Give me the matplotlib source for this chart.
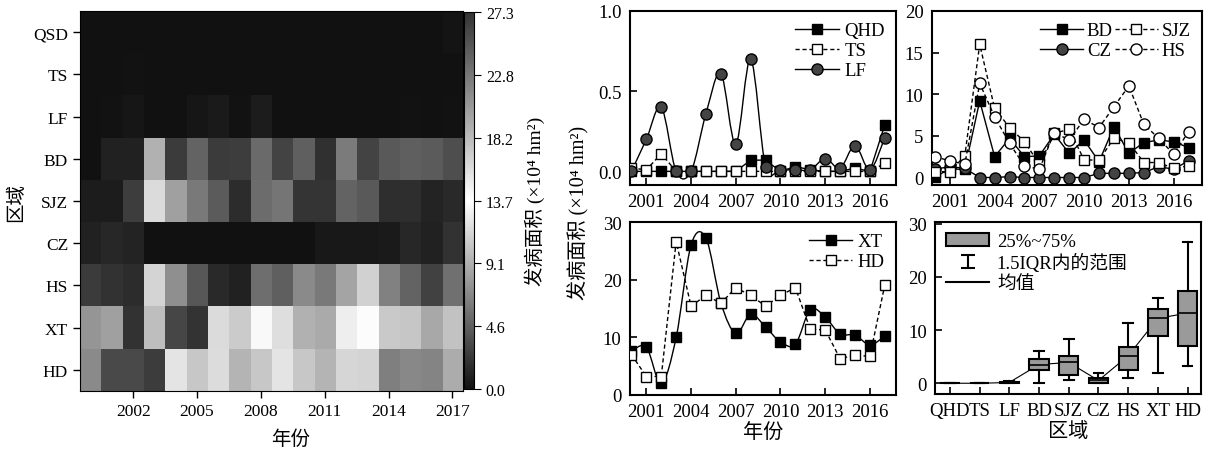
import numpy as np
import matplotlib
matplotlib.use('Agg')
import matplotlib.pyplot as plt
from matplotlib.colors import LinearSegmentedColormap
from matplotlib.path import Path
from matplotlib.patches import PathPatch, Patch
from matplotlib.lines import Line2D
from matplotlib.collections import LineCollection
from matplotlib.container import ErrorbarContainer
from matplotlib.legend_handler import HandlerErrorbar

plt.rcParams['font.family'] = ['Liberation Serif', 'Noto Sans CJK SC', 'DejaVu Serif']
plt.rcParams['axes.unicode_minus'] = False

# ---------------- data (10^4 hm2) ----------------
years = list(range(2000, 2018))
heat_rows = ['QSD', 'TS', 'LF', 'BD', 'SJZ', 'CZ', 'HS', 'XT', 'HD']
box_names = ['QHD', 'TS', 'LF', 'BD', 'SJZ', 'CZ', 'HS', 'XT', 'HD']

qhd = [0, 0, 0, 0, 0, 0, 0, 0, 0.07, 0.07, 0, 0.03, 0.01, 0, 0, 0.02, 0, 0.29]
ts = [0.02, 0.01, 0.11, 0, 0, 0, 0, 0, 0, 0, 0, 0, 0, 0, 0, 0, 0, 0.05]
lf = [0, 0.20, 0.40, 0, 0, 0.36, 0.61, 0.17, 0.70, 0.03, 0.01, 0.01, 0.01, 0.08, 0.02, 0.16, 0.01, 0.21]
bd = [0.1, 1.0, 1.0, 9.2, 2.5, 4.7, 2.5, 2.6, 5.2, 2.9, 4.5, 1.9, 6.1, 2.9, 4.2, 4.5, 4.3, 3.6]
sjz = [0.7, 0.7, 2.6, 16.0, 8.3, 6.0, 4.3, 1.6, 5.3, 5.8, 2.1, 2.1, 4.7, 4.2, 1.8, 1.8, 1.1, 1.4]
cz = [1.0, 1.3, 1.1, 0, 0, 0.1, 0, 0, 0, 0, 0, 0.5, 0.5, 0.5, 0.6, 1.3, 1.0, 2.0]
hs = [2.5, 2.0, 1.6, 11.3, 7.3, 4.1, 1.4, 1.0, 5.4, 4.5, 7.0, 6.0, 8.5, 11.0, 6.4, 4.7, 2.8, 5.5]
xt = [7.6, 8.3, 2.0, 10.0, 26.0, 27.2, 16.0, 10.7, 14.0, 11.8, 9.2, 8.8, 14.8, 13.5, 10.6, 10.4, 8.7, 10.2]
hd = [7.0, 3.2, 3.2, 26.6, 15.4, 17.3, 15.9, 18.6, 17.3, 15.4, 17.3, 18.6, 11.4, 11.3, 6.3, 6.9, 6.7, 19.1]

cbar_ticks = [0.0, 4.55, 9.1, 13.65, 18.2, 22.75, 27.3]
cbar_labels = ['0.0', '4.6', '9.1', '13.7', '18.2', '22.8', '27.3']
unit_label = '发病面积 (×10⁴ hm²)'

FS = 13.5


def smooth_path(x, y):
    # catmull-rom -> cubic bezier, like the spline lines in the original
    p = np.column_stack([x, y]).astype(float)
    ext = np.vstack([p[0], p, p[-1]])
    verts = [p[0]]
    codes = [Path.MOVETO]
    for i in range(len(p) - 1):
        p0, p1, p2, p3 = ext[i], ext[i + 1], ext[i + 2], ext[i + 3]
        verts += [p1 + (p2 - p0) / 6, p2 - (p3 - p1) / 6, p2]
        codes += [Path.CURVE4] * 3
    return Path(verts, codes)


def draw_series(ax, y, ls, marker, mfc, ms, label, smooth=False):
    if smooth:
        ax.add_patch(PathPatch(smooth_path(years, y), fill=False, edgecolor='k',
                               lw=1, linestyle=ls, zorder=2))
        ax.plot(years, y, ls='none', marker=marker, mfc=mfc, mec='k', ms=ms, zorder=3)
    else:
        ax.plot(years, y, ls=ls, color='k', lw=1, marker=marker, mfc=mfc,
                mec='k', ms=ms, zorder=3)
    return Line2D([], [], ls=ls, color='k', lw=1, marker=marker, mfc=mfc,
                  mec='k', ms=ms, label=label)


def style_axes(ax):
    for s in ax.spines.values():
        s.set_linewidth(1.5)
    ax.tick_params(direction='in', length=5, width=1.2, labelsize=FS, pad=6)


fig = plt.figure(figsize=(12.08, 4.52), dpi=100)

# ---------------- heatmap ----------------
ax0 = fig.add_axes([0.0662, 0.1327, 0.3171, 0.8407])
heat = np.array([qhd, ts, lf, bd, sjz, cz, hs, xt, hd])
cmap = LinearSegmentedColormap.from_list('bwb', [(0, '#111111'), (0.5, '#ffffff'), (1, '#333333')])
im = ax0.imshow(heat, cmap=cmap, vmin=0, vmax=27.3, aspect='auto', interpolation='nearest',
                extent=(years[0] - 0.5, years[-1] + 0.5, len(heat_rows) - 0.5, -0.5))
ax0.set_xticks([2002, 2005, 2008, 2011, 2014, 2017])
ax0.set_yticks(range(len(heat_rows)))
ax0.set_yticklabels(heat_rows)
ax0.tick_params(labelsize=12.5, length=5, width=1)
ax0.set_xlabel('年份', fontsize=14, labelpad=8)
ax0.xaxis.set_label_coords(0.55, -0.1)
ax0.set_ylabel('区域', fontsize=14, labelpad=6)

cax = fig.add_axes([0.3841, 0.1372, 0.0083, 0.834])
cb = fig.colorbar(im, cax=cax)
cb.set_ticks(cbar_ticks)
cb.set_ticklabels(cbar_labels)
cb.ax.tick_params(labelsize=11.5, length=5, width=0.8)
cb.outline.set_linewidth(0.8)
cb.set_label(unit_label, fontsize=14, labelpad=8)

# ---------------- line charts ----------------
x_ticks = [2001, 2004, 2007, 2010, 2013, 2016]
xlim = (1999.9, 2017.75)

ax1 = fig.add_axes([0.5215, 0.5885, 0.2202, 0.385])
h1 = [draw_series(ax1, qhd, '-', 's', 'k', 7, 'QHD'),
      draw_series(ax1, ts, (0, (3, 2)), 's', 'w', 7, 'TS'),
      draw_series(ax1, lf, '-', 'o', '#444444', 8, 'LF', smooth=True)]
ax1.set_xlim(xlim)
ax1.set_ylim(-0.085, 1.0)
ax1.set_yticks([0, 0.5, 1.0])
ax1.set_xticks(x_ticks)
style_axes(ax1)
ax1.legend(handles=h1, loc='upper right', frameon=False, fontsize=FS, handlelength=2.3,
           handletextpad=0.3, labelspacing=0.15, borderaxespad=0.2)

ax2 = fig.add_axes([0.7715, 0.5885, 0.2235, 0.385])
h2 = [draw_series(ax2, bd, '-', 's', 'k', 7, 'BD'),
      draw_series(ax2, cz, '-', 'o', '#444444', 8, 'CZ'),
      draw_series(ax2, sjz, (0, (3, 2)), 's', 'w', 7, 'SJZ'),
      draw_series(ax2, hs, (0, (3, 2)), 'o', 'w', 8, 'HS')]
ax2.set_xlim(1999.8, 2017.9)
ax2.set_ylim(-0.9, 20)
ax2.set_yticks([0, 5, 10, 15, 20])
ax2.set_xticks(x_ticks)
style_axes(ax2)
ax2.legend(handles=h2, loc='upper right', ncol=2, frameon=False, fontsize=FS, handlelength=2.3,
           handletextpad=0.2, columnspacing=0.1, labelspacing=0.15, borderaxespad=0.2)

ax3 = fig.add_axes([0.5215, 0.1239, 0.2202, 0.3827])
h3 = [draw_series(ax3, xt, '-', 's', 'k', 7, 'XT', smooth=True),
      draw_series(ax3, hd, (0, (3, 2)), 's', 'w', 7, 'HD')]
ax3.set_xlim(xlim)
ax3.set_ylim(0, 30)
ax3.set_yticks([0, 10, 20, 30])
ax3.set_xticks(x_ticks)
style_axes(ax3)
ax3.set_xlabel('年份', fontsize=14.5, labelpad=2)
ax3.legend(handles=h3, loc='upper right', frameon=False, fontsize=FS, handlelength=2.3,
           handletextpad=0.3, labelspacing=0.15, borderaxespad=0.2)

fig.text(0.478, 0.53, unit_label, rotation=90, ha='center', va='center', fontsize=14.5)

# ---------------- box plot ----------------
ax4 = fig.add_axes([0.774, 0.1261, 0.2202, 0.3805])
box_data = [qhd, ts, lf, bd, sjz, cz, hs, xt, hd]
pos = np.arange(1, len(box_names) + 1)
ax4.boxplot(box_data, positions=pos, widths=0.65, patch_artist=True, showfliers=False,
            showmeans=True, meanline=True, whis=1.5,
            boxprops=dict(facecolor='#9a9a9a', edgecolor='k', linewidth=1.5),
            whiskerprops=dict(color='k', linewidth=1.5),
            capprops=dict(color='k', linewidth=1.5),
            medianprops=dict(visible=False),
            meanprops=dict(color='k', linestyle='-', linewidth=1.2))
means = [np.mean(d) for d in box_data]
ax4.plot(pos, means, color='k', lw=0.8, zorder=1)
ax4.set_xlim(0.5, 9.45)
ax4.set_ylim(-2, 30.3)
ax4.set_yticks([0, 10, 20, 30])
ax4.set_xticks(pos)
ax4.set_xticklabels(box_names)
style_axes(ax4)
ax4.tick_params(axis='x', pad=6)
ax4.set_xlabel('区域', fontsize=14.5, labelpad=2)

cap = Line2D([], [], color='k', marker='_', ms=10, mew=1.5, ls='none')
bar = LineCollection([], colors='k', linewidths=1.5)
eb = ErrorbarContainer((None, (cap, cap), (bar,)), has_xerr=False, has_yerr=True)
box_handles = [Patch(facecolor='#9a9a9a', edgecolor='k', linewidth=1.5),
               eb,
               Line2D([], [], color='k', lw=1.5)]
ax4.legend(box_handles, ['25%~75%', '1.5IQR内的范围', '均值'], loc='upper left', frameon=False,
           fontsize=FS, handlelength=2.3, handletextpad=0.4, labelspacing=0.15,
           borderaxespad=0.2, handler_map={ErrorbarContainer: HandlerErrorbar(yerr_size=0.35)})

fig.savefig('out.png', dpi=100)
